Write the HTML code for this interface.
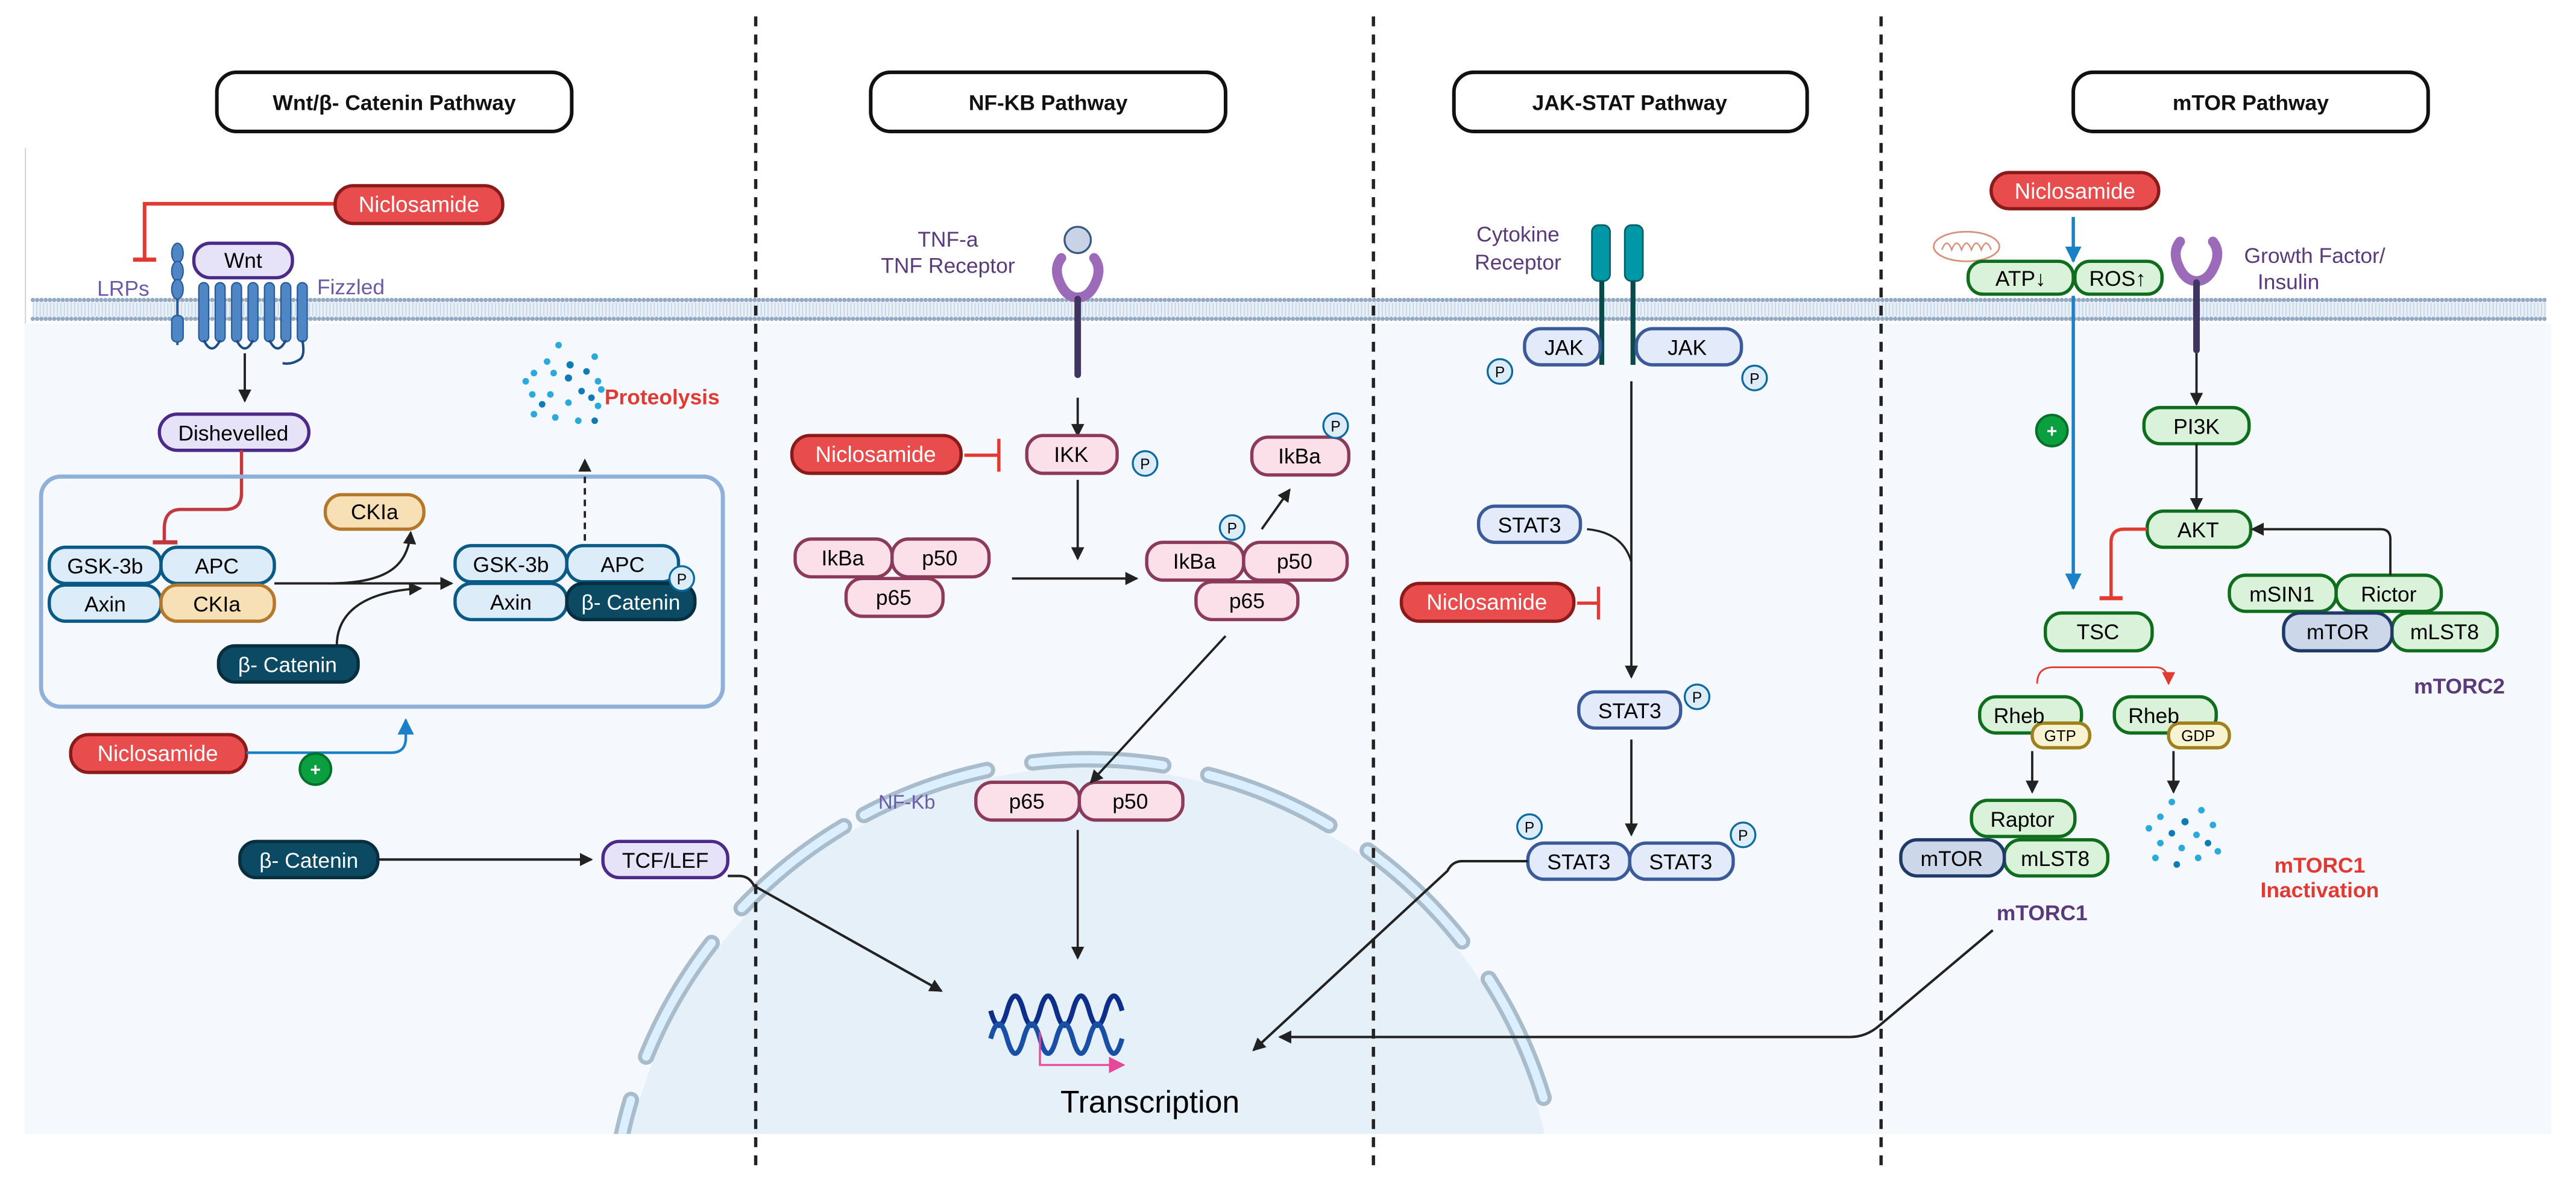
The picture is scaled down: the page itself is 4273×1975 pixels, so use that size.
<!DOCTYPE html>
<html><head><meta charset="utf-8"><style>
html,body{margin:0;padding:0;background:#fff;width:4273px;height:1975px;overflow:hidden}
svg{display:block}
text{font-family:"Liberation Sans",sans-serif}
</style></head><body>
<svg width="4273" height="1975" viewBox="0 0 1568 724.7" preserveAspectRatio="none" xmlns="http://www.w3.org/2000/svg">
<defs>
<marker id="ab" markerWidth="8" markerHeight="8" refX="7" refY="4" orient="auto" markerUnits="userSpaceOnUse"><path d="M0,0 L8,4 L0,8 Z" fill="#222"/></marker>
<marker id="abl" markerWidth="10" markerHeight="10" refX="9" refY="5" orient="auto" markerUnits="userSpaceOnUse"><path d="M0,0 L10,5 L0,10 Z" fill="#1a80c8"/></marker>
<marker id="ar" markerWidth="8" markerHeight="8" refX="7" refY="4" orient="auto" markerUnits="userSpaceOnUse"><path d="M0,0 L8,4 L0,8 Z" fill="#e23a32"/></marker>
<marker id="ap" markerWidth="10" markerHeight="10" refX="9" refY="5" orient="auto" markerUnits="userSpaceOnUse"><path d="M0,0 L10,5 L0,10 Z" fill="#e8489a"/></marker>
<clipPath id="cy"><rect x="15" y="197" width="1538" height="493"/></clipPath>
</defs>
<rect x="0" y="0" width="1568" height="725" fill="#fff"/>
<rect x="15" y="197" width="1538" height="493" fill="#f5f9fd"/>
<line x1="15.5" y1="90" x2="15.5" y2="197" stroke="#ccc" stroke-width="0.6"/>
<g clip-path="url(#cy)">
<circle cx="662" cy="752" r="285" fill="#e6f0f8"/>
<circle cx="662" cy="752" r="290" fill="none" stroke="#a9bccb" stroke-width="10" stroke-dasharray="80 28" stroke-linecap="round" transform="rotate(-118 662 752)"/>
<circle cx="662" cy="752" r="290" fill="none" stroke="#dcefff" stroke-width="5" stroke-dasharray="80 28" stroke-linecap="round" transform="rotate(-118 662 752)"/>
</g>
<g>
<rect x="20" y="183" width="1530" height="11" fill="#e8eff6"/>
<line x1="20" y1="182.5" x2="1550" y2="182.5" stroke="#93aac2" stroke-width="2.6" stroke-dasharray="0 2.6" stroke-linecap="round"/>
<line x1="20" y1="194" x2="1550" y2="194" stroke="#93aac2" stroke-width="2.6" stroke-dasharray="0 2.6" stroke-linecap="round"/>
<line x1="20" y1="188.3" x2="1550" y2="188.3" stroke="#bcd0e4" stroke-width="8" stroke-dasharray="0.5 1.6"/>
</g>
<g stroke="#222" stroke-width="2" stroke-dasharray="6 5">
<line x1="460" y1="10" x2="460" y2="712"/>
<line x1="836" y1="10" x2="836" y2="712"/>
<line x1="1145" y1="10" x2="1145" y2="712"/>
</g>
<g fill="#fff" stroke="#111" stroke-width="2.2">
<rect x="132" y="44" width="216" height="36" rx="12"/>
<rect x="530" y="44" width="216" height="36" rx="12"/>
<rect x="885" y="44" width="215" height="36" rx="12"/>
<rect x="1262" y="44" width="216" height="36" rx="12"/>
</g>
<g font-size="13" font-weight="bold" fill="#111" text-anchor="middle">
<text x="240" y="67">Wnt/β- Catenin Pathway</text>
<text x="638" y="67">NF-KB Pathway</text>
<text x="992" y="67">JAK-STAT Pathway</text>
<text x="1370" y="67">mTOR Pathway</text>
</g>

<path d="M204,124 H88 V158" fill="none" stroke="#e23a32" stroke-width="2.2"/>
<line x1="81" y1="158" x2="95" y2="158" stroke="#e23a32" stroke-width="2.5"/>
<text x="75" y="180" font-size="13" fill="#6a5aa8" text-anchor="middle">LRPs</text>
<g fill="#4f86c6" stroke="#2a5a96" stroke-width="0.8">
<line x1="108" y1="152" x2="108" y2="210" stroke="#2a5a96" stroke-width="1.5"/>
<ellipse cx="108" cy="154" rx="3.5" ry="6"/><ellipse cx="108" cy="165" rx="3.5" ry="6"/><ellipse cx="108" cy="176" rx="3.5" ry="6"/><rect x="104.5" y="192" width="7" height="16" rx="3"/>
</g>
<g fill="#4f86c6" stroke="#2a5a96" stroke-width="0.8">
<rect x="121" y="172" width="6" height="36" rx="3"/><rect x="131" y="172" width="6" height="36" rx="3"/><rect x="141" y="172" width="6" height="36" rx="3"/><rect x="151" y="172" width="6" height="36" rx="3"/><rect x="161" y="172" width="6" height="36" rx="3"/><rect x="171" y="172" width="6" height="36" rx="3"/><rect x="181" y="172" width="6" height="36" rx="3"/>
</g>
<path d="M124,207 q5,10 10,0 M144,207 q5,10 10,0 M164,207 q5,10 10,0 M184,207 q2,10 -2,12 q-5,3 -10,2" fill="none" stroke="#1e4a86" stroke-width="1.5"/>
<rect x="118" y="148" width="60" height="21" rx="10" fill="#e6e2f7" stroke="#4b2a8a" stroke-width="2"/>
<text x="148" y="163" font-size="13" text-anchor="middle">Wnt</text>
<text x="193" y="179" font-size="13" fill="#6a5aa8">Fizzled</text>
<rect x="204" y="113" width="102" height="23" rx="11" fill="#e84c4c" stroke="#8b1a1a" stroke-width="2"/>
<text x="255" y="129" font-size="13.5" fill="#fff" text-anchor="middle">Niclosamide</text>

<line x1="149" y1="215" x2="149" y2="244" stroke="#222" stroke-width="1.4" marker-end="url(#ab)"/>
<rect x="97" y="252" width="91" height="22" rx="11" fill="#e6e2f7" stroke="#4b2a8a" stroke-width="2"/>
<text x="142" y="268" font-size="13" text-anchor="middle">Dishevelled</text>
<path d="M147,274 V300 q0,10 -10,10 H110 q-10,0 -10,12 V330" fill="none" stroke="#c0393f" stroke-width="2"/>
<line x1="93" y1="330" x2="108" y2="330" stroke="#c0393f" stroke-width="2.5"/>

<rect x="25" y="290" width="415" height="140" rx="12" fill="none" stroke="#8fb0d9" stroke-width="2.5"/>
<g fill="#29a9dc">
<circle cx="340" cy="210" r="2"/><circle cx="362" cy="217" r="2"/><circle cx="333" cy="220" r="2"/><circle cx="347" cy="222" r="2.2" fill="#0e7ab8"/><circle cx="325" cy="227" r="2"/><circle cx="357" cy="226" r="2" fill="#0e7ab8"/><circle cx="364" cy="232" r="2"/><circle cx="337" cy="227" r="2"/><circle cx="346" cy="230" r="2.2" fill="#0e7ab8"/><circle cx="324" cy="240" r="2"/><circle cx="335" cy="240" r="2"/><circle cx="354" cy="238" r="2" fill="#0e7ab8"/><circle cx="366" cy="237" r="2"/><circle cx="320" cy="232" r="2"/><circle cx="330" cy="246" r="2" fill="#0e7ab8"/><circle cx="346" cy="245" r="2"/><circle cx="360" cy="242" r="2" fill="#0e7ab8"/><circle cx="325" cy="252" r="2"/><circle cx="338" cy="254" r="2"/><circle cx="352" cy="256" r="2"/><circle cx="364" cy="247" r="2"/><circle cx="362" cy="256" r="2" fill="#0e7ab8"/>
</g>
<text x="368" y="246" font-size="13" font-weight="bold" fill="#e23a32">Proteolysis</text>
<line x1="356" y1="343" x2="356" y2="280" stroke="#222" stroke-width="1.4" stroke-dasharray="4 3" marker-end="url(#ab)"/>

<rect x="198" y="301" width="60" height="21" rx="10" fill="#f7e0b5" stroke="#b5782a" stroke-width="2"/>
<text x="228" y="316" font-size="13" text-anchor="middle">CKIa</text>
<g stroke="#0a5a87" stroke-width="2" fill="#dcecf8">
<rect x="30" y="333" width="68" height="22" rx="10"/><rect x="98" y="333" width="69" height="22" rx="10"/><rect x="30" y="356" width="68" height="22" rx="10"/>
</g>
<rect x="98" y="356" width="69" height="22" rx="10" fill="#f7e0b5" stroke="#b5782a" stroke-width="2"/>
<g font-size="13" text-anchor="middle">
<text x="64" y="349">GSK-3b</text><text x="132" y="349">APC</text><text x="64" y="372">Axin</text><text x="132" y="372">CKIa</text>
</g>
<path d="M167,355 H275" stroke="#222" stroke-width="1.4" fill="none" marker-end="url(#ab)"/>
<path d="M200,355 C235,355 248,345 250,324" stroke="#222" stroke-width="1.4" fill="none" marker-end="url(#ab)"/>
<path d="M205,393 C205,375 218,360 256,358" stroke="#222" stroke-width="1.4" fill="none" marker-end="url(#ab)"/>
<rect x="133" y="393" width="85" height="22" rx="10" fill="#0c4a63" stroke="#072f40" stroke-width="2"/>
<text x="175" y="409" font-size="13" fill="#fff" text-anchor="middle">β- Catenin</text>
<g stroke="#0a5a87" stroke-width="2" fill="#dcecf8">
<rect x="277" y="332" width="68" height="22" rx="10"/><rect x="345" y="332" width="68" height="22" rx="10"/><rect x="277" y="355" width="68" height="22" rx="10"/>
</g>
<rect x="345" y="355" width="78" height="22" rx="10" fill="#0c4a63" stroke="#072f40" stroke-width="2"/>
<g font-size="13" text-anchor="middle">
<text x="311" y="348">GSK-3b</text><text x="379" y="348">APC</text><text x="311" y="371">Axin</text><text x="384" y="371" fill="#fff">β- Catenin</text>
</g>
<circle cx="415" cy="352" r="7.5" fill="#dcecf8" stroke="#0a6aa0" stroke-width="1.2"/><text x="415" y="355.5" font-size="9" text-anchor="middle">P</text>

<rect x="43" y="447" width="107" height="23" rx="11" fill="#e84c4c" stroke="#8b1a1a" stroke-width="2"/>
<text x="96" y="463" font-size="13.5" fill="#fff" text-anchor="middle">Niclosamide</text>
<path d="M150,458 H238 q9,0 9,-9 V438" stroke="#1a80c8" stroke-width="1.6" fill="none" marker-end="url(#abl)"/>
<circle cx="192" cy="468" r="9.5" fill="#0aa040" stroke="#06702a" stroke-width="1.5"/><text x="192" y="472" font-size="11" font-weight="bold" fill="#fff" text-anchor="middle">+</text>

<rect x="146" y="512" width="84" height="22" rx="10" fill="#0c4a63" stroke="#072f40" stroke-width="2"/>
<text x="188" y="528" font-size="13" fill="#fff" text-anchor="middle">β- Catenin</text>
<line x1="230" y1="523" x2="360" y2="523" stroke="#222" stroke-width="1.5" marker-end="url(#ab)"/>
<rect x="367" y="512" width="76" height="22" rx="10" fill="#e6e2f7" stroke="#4b2a8a" stroke-width="2"/>
<text x="405" y="528" font-size="13" text-anchor="middle">TCF/LEF</text>
<path d="M443,533 H450 q6,0 9,6 L573,603" stroke="#222" stroke-width="1.5" fill="none" marker-end="url(#ab)"/>

<text x="577" y="150" font-size="13" fill="#5a3a7a" text-anchor="middle">TNF-a</text>
<text x="577" y="166" font-size="13" fill="#5a3a7a" text-anchor="middle">TNF Receptor</text>
<circle cx="656" cy="146" r="8" fill="#c8d3e8" stroke="#3c5a80" stroke-width="1.2"/>
<path d="M646,157 q-4,5 -2,12 q4,12 12,12 q8,0 12,-12 q2,-7 -2,-12" fill="none" stroke="#9b6ab8" stroke-width="6" stroke-linecap="round"/>
<line x1="656" y1="182" x2="656" y2="228" stroke="#3e3560" stroke-width="4" stroke-linecap="round"/>
<line x1="656" y1="242" x2="656" y2="265" stroke="#222" stroke-width="1.4" marker-end="url(#ab)"/>
<rect x="482" y="265" width="103" height="23" rx="11" fill="#e84c4c" stroke="#8b1a1a" stroke-width="2"/>
<text x="533" y="281" font-size="13.5" fill="#fff" text-anchor="middle">Niclosamide</text>
<line x1="587" y1="277" x2="608" y2="277" stroke="#e23a32" stroke-width="2"/><line x1="608" y1="267" x2="608" y2="287" stroke="#e23a32" stroke-width="2"/>
<g fill="#fbe0ea" stroke="#8b3a5a" stroke-width="2">
<rect x="625" y="265" width="55" height="23" rx="10"/>
<rect x="484" y="328" width="59" height="23" rx="10"/><rect x="543" y="328" width="59" height="23" rx="10"/><rect x="515" y="352" width="59" height="23" rx="10"/>
<rect x="698" y="330" width="59" height="23" rx="10"/><rect x="757" y="330" width="63" height="23" rx="10"/><rect x="728" y="354" width="62" height="23" rx="10"/>
<rect x="762" y="266" width="59" height="23" rx="10"/>
<rect x="594" y="476" width="63" height="23" rx="10"/><rect x="657" y="476" width="63" height="23" rx="10"/>
</g>
<g font-size="13" text-anchor="middle">
<text x="652" y="281">IKK</text>
<text x="513" y="344">IkBa</text><text x="572" y="344">p50</text><text x="544" y="368">p65</text>
<text x="727" y="346">IkBa</text><text x="788" y="346">p50</text><text x="759" y="370">p65</text>
<text x="791" y="282">IkBa</text>
<text x="625" y="492">p65</text><text x="688" y="492">p50</text>
</g>
<g fill="#dcecf8" stroke="#0a6aa0" stroke-width="1.2">
<circle cx="697" cy="282" r="7.5"/><circle cx="750" cy="321" r="7.5"/><circle cx="813" cy="259" r="7.5"/>
</g>
<g font-size="9" text-anchor="middle"><text x="697" y="285.5">P</text><text x="750" y="324.5">P</text><text x="813" y="262.5">P</text></g>
<line x1="656" y1="292" x2="656" y2="340" stroke="#222" stroke-width="1.4" marker-end="url(#ab)"/>
<line x1="616" y1="352" x2="692" y2="352" stroke="#222" stroke-width="1.4" marker-end="url(#ab)"/>
<line x1="768" y1="322" x2="785" y2="298" stroke="#222" stroke-width="1.4" marker-end="url(#ab)"/>
<line x1="746" y1="387" x2="664" y2="476" stroke="#222" stroke-width="1.4" marker-end="url(#ab)"/>
<text x="552" y="492" font-size="12" fill="#6a5aa8" text-anchor="middle">NF-Kb</text>
<line x1="656" y1="505" x2="656" y2="583" stroke="#222" stroke-width="1.3" marker-end="url(#ab)"/>
<g fill="none" stroke-width="3">
<path d="M603,615 q5,18 10,0 q5,-18 10,0 q5,18 10,0 q5,-18 10,0 q5,18 10,0 q5,-18 10,0 q5,18 10,0 q5,-18 10,0" stroke="#0d2f8a"/>
<path d="M603,632 q5,-18 10,0 q5,18 10,0 q5,-18 10,0 q5,18 10,0 q5,-18 10,0 q5,18 10,0 q5,-18 10,0 q5,18 10,0" stroke="#1a4fa8"/>
</g>
<path d="M633,628 V648 H684" fill="none" stroke="#e8489a" stroke-width="1.2" marker-end="url(#ap)"/>
<text x="700" y="677" font-size="19" text-anchor="middle">Transcription</text>

<text x="924" y="147" font-size="13" fill="#5a3a7a" text-anchor="middle">Cytokine</text>
<text x="924" y="164" font-size="13" fill="#5a3a7a" text-anchor="middle">Receptor</text>
<rect x="969" y="137" width="11" height="34" rx="4" fill="#0097a7" stroke="#00606a" stroke-width="1"/>
<rect x="989" y="137" width="11" height="34" rx="4" fill="#0097a7" stroke="#00606a" stroke-width="1"/>
<line x1="975" y1="171" x2="975" y2="222" stroke="#0a4a4a" stroke-width="3"/>
<line x1="994" y1="171" x2="994" y2="222" stroke="#0a4a4a" stroke-width="3"/>
<g fill="#e3ebfa" stroke="#3a5a9a" stroke-width="2">
<rect x="928" y="200" width="46" height="22" rx="10"/><rect x="996" y="200" width="64" height="22" rx="10"/>
<rect x="900" y="308" width="62" height="22" rx="10"/>
<rect x="961" y="421" width="62" height="22" rx="10"/>
<rect x="930" y="513" width="62" height="22" rx="10"/><rect x="992" y="513" width="63" height="22" rx="10"/>
</g>
<g font-size="13" text-anchor="middle">
<text x="952" y="216">JAK</text><text x="1027" y="216">JAK</text>
<text x="931" y="324">STAT3</text><text x="992" y="437">STAT3</text>
<text x="961" y="529">STAT3</text><text x="1023" y="529">STAT3</text>
</g>
<g fill="#dcecf8" stroke="#0a6aa0" stroke-width="1.2">
<circle cx="913" cy="226" r="7.5"/><circle cx="1068" cy="230" r="7.5"/><circle cx="1033" cy="424" r="7.5"/><circle cx="931" cy="503" r="7.5"/><circle cx="1061" cy="508" r="7.5"/>
</g>
<g font-size="9" text-anchor="middle"><text x="913" y="229.5">P</text><text x="1068" y="233.5">P</text><text x="1033" y="427.5">P</text><text x="931" y="506.5">P</text><text x="1061" y="511.5">P</text></g>
<line x1="993" y1="232" x2="993" y2="412" stroke="#222" stroke-width="1.4" marker-end="url(#ab)"/>
<path d="M966,322 q22,2 27,20" fill="none" stroke="#222" stroke-width="1.3"/>
<rect x="853" y="355" width="105" height="23" rx="11" fill="#e84c4c" stroke="#8b1a1a" stroke-width="2"/>
<text x="905" y="371" font-size="13.5" fill="#fff" text-anchor="middle">Niclosamide</text>
<line x1="960" y1="367" x2="973" y2="367" stroke="#e23a32" stroke-width="2"/><line x1="973" y1="357" x2="973" y2="377" stroke="#e23a32" stroke-width="2"/>
<line x1="993" y1="450" x2="993" y2="508" stroke="#222" stroke-width="1.4" marker-end="url(#ab)"/>
<path d="M930,524 H890 q-6,0 -9,6 L763,639" fill="none" stroke="#222" stroke-width="1.5" marker-end="url(#ab)"/>

<rect x="1212" y="105" width="102" height="22" rx="11" fill="#e84c4c" stroke="#8b1a1a" stroke-width="2"/>
<text x="1263" y="121" font-size="13.5" fill="#fff" text-anchor="middle">Niclosamide</text>
<line x1="1262" y1="132" x2="1262" y2="159" stroke="#1a80c8" stroke-width="2" marker-end="url(#abl)"/>
<ellipse cx="1197" cy="150" rx="20" ry="9" fill="#fff" stroke="#d8907a" stroke-width="1"/>
<path d="M1182,152 q3,-8 6,0 q3,-8 6,0 q3,-8 6,0 q3,-8 6,0 q3,-8 6,0" fill="none" stroke="#d8907a" stroke-width="0.9"/>
<g fill="#d9f2d9" stroke="#0e6e1e" stroke-width="2">
<rect x="1198" y="159" width="64" height="20" rx="9"/><rect x="1263" y="159" width="53" height="20" rx="9"/>
<rect x="1305" y="248" width="64" height="22" rx="10"/>
<rect x="1307" y="311" width="63" height="22" rx="10"/>
<rect x="1357" y="350" width="65" height="22" rx="10"/><rect x="1422" y="350" width="64" height="22" rx="10"/>
<rect x="1456" y="373" width="64" height="23" rx="10"/>
<rect x="1245" y="373" width="65" height="23" rx="10"/>
<rect x="1205" y="424" width="62" height="22" rx="10"/><rect x="1287" y="424" width="62" height="22" rx="10"/>
<rect x="1200" y="487" width="63" height="22" rx="10"/>
<rect x="1220" y="511" width="63" height="22" rx="10"/>
</g>
<g fill="#cdd7ea" stroke="#1f3a66" stroke-width="2">
<rect x="1390" y="373" width="66" height="23" rx="10"/>
<rect x="1157" y="511" width="63" height="22" rx="10"/>
</g>
<g fill="#f7f2d0" stroke="#a0801a" stroke-width="2">
<rect x="1237" y="440" width="35" height="15" rx="7"/><rect x="1320" y="440" width="37" height="15" rx="7"/>
</g>
<g font-size="13" text-anchor="middle">
<text x="1230" y="174">ATP↓</text><text x="1289" y="174">ROS↑</text>
<text x="1337" y="264">PI3K</text><text x="1338" y="327">AKT</text>
<text x="1389" y="366">mSIN1</text><text x="1454" y="366">Rictor</text>
<text x="1423" y="389">mTOR</text><text x="1488" y="389">mLST8</text>
<text x="1277" y="389">TSC</text>
<text x="1229" y="440">Rheb</text><text x="1311" y="440">Rheb</text>
<text x="1231" y="503">Raptor</text>
<text x="1188" y="527">mTOR</text><text x="1251" y="527">mLST8</text>
</g>
<g font-size="9.5" text-anchor="middle"><text x="1254" y="451">GTP</text><text x="1338" y="451">GDP</text></g>
<line x1="1262" y1="180" x2="1262" y2="358" stroke="#1a80c8" stroke-width="2" marker-end="url(#abl)"/>
<circle cx="1249" cy="262" r="9.5" fill="#0aa040" stroke="#06702a" stroke-width="1.5"/><text x="1249" y="266" font-size="11" font-weight="bold" fill="#fff" text-anchor="middle">+</text>
<path d="M1327,147 q-4,5 -2,12 q4,12 12,12 q8,0 12,-12 q2,-7 -2,-12" fill="none" stroke="#9b6ab8" stroke-width="6" stroke-linecap="round"/>
<line x1="1337" y1="172" x2="1337" y2="213" stroke="#3e3560" stroke-width="4" stroke-linecap="round"/>
<text x="1366" y="160" font-size="13" fill="#5a3a7a">Growth Factor/</text>
<text x="1393" y="176" font-size="13" fill="#5a3a7a" text-anchor="middle">Insulin</text>
<line x1="1337" y1="215" x2="1337" y2="246" stroke="#222" stroke-width="1.4" marker-end="url(#ab)"/>
<line x1="1337" y1="270" x2="1337" y2="310" stroke="#222" stroke-width="1.4" marker-end="url(#ab)"/>
<path d="M1307,322 H1293 q-8,0 -8,8 V364" fill="none" stroke="#e23a32" stroke-width="2"/>
<line x1="1278" y1="364" x2="1292" y2="364" stroke="#e23a32" stroke-width="2.5"/>
<path d="M1455,350 V328 q0,-6 -6,-6 H1371" fill="none" stroke="#222" stroke-width="1.4" marker-end="url(#ab)"/>
<text x="1497" y="422" font-size="13" font-weight="bold" fill="#5a3a7a" text-anchor="middle">mTORC2</text>
<path d="M1240,416 q0,-10 10,-10 H1312 q8,0 8,10" fill="none" stroke="#e23a32" stroke-width="1" marker-end="url(#ar)"/>
<line x1="1237" y1="457" x2="1237" y2="482" stroke="#222" stroke-width="1.4" marker-end="url(#ab)"/>
<line x1="1323" y1="457" x2="1323" y2="482" stroke="#222" stroke-width="1.4" marker-end="url(#ab)"/>
<g fill="#29a9dc">
<circle cx="1322" cy="488" r="2"/><circle cx="1340" cy="493" r="2"/><circle cx="1315" cy="497" r="2"/><circle cx="1330" cy="500" r="2.2" fill="#0e7ab8"/><circle cx="1347" cy="502" r="2"/><circle cx="1308" cy="504" r="2"/><circle cx="1322" cy="507" r="2" fill="#0e7ab8"/><circle cx="1337" cy="508" r="2"/><circle cx="1315" cy="513" r="2"/><circle cx="1344" cy="513" r="2" fill="#0e7ab8"/><circle cx="1328" cy="516" r="2"/><circle cx="1312" cy="522" r="2"/><circle cx="1338" cy="522" r="2"/><circle cx="1325" cy="526" r="2" fill="#0e7ab8"/><circle cx="1350" cy="518" r="2"/>
</g>
<text x="1412" y="531" font-size="13" font-weight="bold" fill="#e23a32" text-anchor="middle">mTORC1</text>
<text x="1412" y="546" font-size="13" font-weight="bold" fill="#e23a32" text-anchor="middle">Inactivation</text>
<text x="1243" y="560" font-size="13" font-weight="bold" fill="#5a3a7a" text-anchor="middle">mTORC1</text>
<path d="M1213,566 L1144,624 q-8,7 -18,7 H779" fill="none" stroke="#222" stroke-width="1.5" marker-end="url(#ab)"/>
</svg>
</body></html>
